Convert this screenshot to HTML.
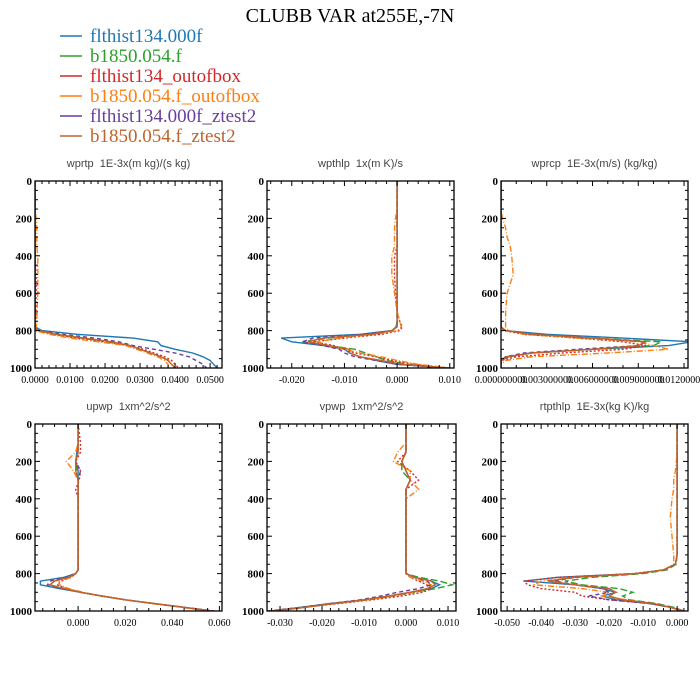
<!DOCTYPE html>
<html><head><meta charset="utf-8"><style>
body{margin:0;background:#fff;}
svg{display:block;}
text{white-space:pre;}
</style></head><body>
<svg id="c" width="700" height="700" xmlns="http://www.w3.org/2000/svg">
<text x="350" y="22" text-anchor="middle" font-family="Liberation Serif, serif" font-size="20">CLUBB VAR at255E,-7N</text>
<g id="legend"></g>
<g id="panels"></g>
</svg>
<script>
const levels=[0,100,150,200,250,300,350,400,500,600,700,750,780,800,820,840,860,880,900,920,940,960,980,1000];
const seriesNames=["flthist134.000f","b1850.054.f","flthist134_outofbox","b1850.054.f_outofbox","flthist134.000f_ztest2","b1850.054.f_ztest2"];
const colors=["#1f77b4","#2ca02c","#d62728","#ff7f0e","#6a3d9a","#c0622b"];
const dashes=["","7,3","2,2","6,2,1,2","4,3",""];

const wprtp_s1=[0,0,0,0,0,0,0,0,0,0,0,0,0,.002,.012,.028,.035,.036,.040,.045,.048,.050,.051,.052];
const wprtp_s2=[0,0,0,0,0,0,0,0,0,0,0,0,0,.001,.006,.013,.021,.027,.030,.033,.036,.038,.039,.040];
const wprtp_s3=[0,0,0,0,0,0,0,0,.0003,.0003,.0002,.0002,0,.0005,.005,.012,.020,.027,.031,.034,.037,.039,.040,.041];
const wprtp_s4=[0,0,0,.0003,.0005,.0005,.0005,.0008,.0008,.0008,.0006,.0005,.0003,0,.004,.010,.018,.026,.029,.032,.035,.037,.038,.038];
const wprtp_s5=[0,0,0,0,0,0,0,0,0,0,0,0,0,.001,.008,.017,.024,.028,.034,.040,.044,.046,.048,.049];
const wprtp_s6=[0,0,0,0,0,0,0,0,0,0,0,0,0,.001,.006,.014,.022,.027,.030,.033,.036,.038,.039,.040];

const wpthlp_s1=[0,0,0,0,0,0,0,0,0,0,0,0,-.0002,-.001,-.007,-.022,-.020,-.014,-.010,-.009,-.007,-.004,0,.010];
const wpthlp_s2=[0,0,0,0,0,0,0,0,0,0,0,0,0,-.001,-.004,-.013,-.018,-.013,-.008,-.006,-.004,-.002,.002,.009];
const wpthlp_s3=[0,0,0,0,0,0,0,-.0005,-.0005,-.0003,0,.0005,.001,.0005,-.003,-.010,-.016,-.012,-.010,-.008,-.004,-.001,.003,.010];
const wpthlp_s4=[0,0,0,-.0003,-.0005,-.0005,-.0005,-.001,-.001,-.0005,0,.0005,.0008,0,-.004,-.011,-.015,-.013,-.010,-.007,-.003,0,.004,.010];
const wpthlp_s5=[0,0,0,0,0,0,0,0,0,0,0,0,0,-.001,-.006,-.016,-.018,-.014,-.011,-.010,-.008,-.004,0,.009];
const wpthlp_s6=[0,0,0,0,0,0,0,0,0,0,0,0,0,-.001,-.005,-.014,-.017,-.013,-.009,-.009,-.007,-.003,.001,.009];

const wprcp_s1=[0,0,0,0,0,0,0,0,0,0,0,0,0,.0003,.003,.008,.0125,.011,.006,.002,.0005,0,0,0];
const wprcp_s2=[0,0,0,0,0,0,0,0,0,0,0,0,0,.0003,.002,.006,.0105,.010,.006,.002,.0003,0,0,0];
const wprcp_s3=[0,0,0,0,0,0,0,0,0,0,0,0,0,.0002,.0015,.005,.008,.0095,.008,.004,.001,0,0,0];
const wprcp_s4=[0,0,0,.0001,.0003,.0004,.0006,.0007,.0008,.0004,.0003,.0003,.0003,.0005,.0015,.005,.009,.010,.011,.007,.002,.0003,0,0];
const wprcp_s5=[0,0,0,0,0,0,0,0,0,0,0,0,0,.0003,.002,.006,.0095,.009,.005,.0015,.0003,0,0,0];
const wprcp_s6=[0,0,0,0,0,0,0,0,0,0,0,0,0,.0003,.002,.006,.0095,.009,.006,.002,.0004,0,0,0];

const upwp_s1=[0,0,-.0005,-.001,0,0,0,0,0,0,0,0,0,-.001,-.006,-.016,-.016,-.008,.001,.010,.020,.032,.045,.057];
const upwp_s2=[0,0,0,-.001,-.0005,0,0,0,0,0,0,0,0,-.001,-.004,-.010,-.012,-.006,.001,.010,.020,.032,.045,.056];
const upwp_s3=[0,.001,.001,-.001,.001,.0005,-.001,0,0,0,0,0,0,-.001,-.003,-.007,-.009,-.005,.001,.010,.020,.032,.045,.056];
const upwp_s4=[0,0,-.001,-.005,-.002,0,0,0,0,0,0,0,0,-.001,-.003,-.008,-.008,-.004,.002,.010,.020,.031,.044,.055];
const upwp_s5=[0,0,0,-.001,.001,0,0,0,0,0,0,0,0,-.001,-.005,-.012,-.013,-.006,.001,.010,.020,.032,.045,.058];
const upwp_s6=[0,0,0,-.001,-.001,0,0,0,0,0,0,0,0,-.001,-.004,-.010,-.012,-.006,.001,.010,.020,.032,.045,.057];

const vpwp_s1=[0,0,0,-.001,0,.001,0,0,0,0,0,0,0,0,.002,.006,.008,.006,.001,-.004,-.010,-.018,-.025,-.032];
const vpwp_s2=[0,0,0,-.001,-.001,.001,0,0,0,0,0,0,0,0,.003,.008,.011,.007,.002,-.003,-.009,-.017,-.025,-.032];
const vpwp_s3=[0,0,0,-.002,.001,.003,0,0,0,0,0,0,0,0,.001,.003,.005,.006,.004,-.001,-.008,-.016,-.024,-.031];
const vpwp_s4=[0,0,-.002,-.003,.001,.001,.003,0,0,0,0,0,0,0,.001,.004,.006,.005,.002,-.003,-.009,-.017,-.024,-.031];
const vpwp_s5=[0,0,0,-.001,0,.001,0,0,0,0,0,0,0,0,.002,.005,.006,.003,-.002,-.006,-.011,-.018,-.025,-.033];
const vpwp_s6=[0,0,0,-.001,0,.001,0,0,0,0,0,0,0,0,.002,.006,.007,.005,.001,-.004,-.010,-.017,-.024,-.032];

const rtpthlp_s1=[0,0,0,0,0,0,0,0,0,0,0,-.0005,-.004,-.012,-.035,-.045,-.030,-.022,-.018,-.022,-.018,-.008,-.002,.002];
const rtpthlp_s2=[0,0,0,0,0,0,0,0,0,0,0,-.0003,-.003,-.010,-.025,-.033,-.028,-.017,-.013,-.016,-.014,-.006,-.001,.002];
const rtpthlp_s3=[0,0,0,0,0,0,0,0,0,0,0,-.0005,-.004,-.013,-.035,-.045,-.044,-.040,-.030,-.028,-.020,-.008,-.002,.002];
const rtpthlp_s4=[0,0,0,-.0002,-.0005,-.001,-.001,-.0015,-.002,-.0015,-.001,-.001,-.004,-.012,-.030,-.040,-.042,-.028,-.020,-.022,-.015,-.007,-.002,.002];
const rtpthlp_s5=[0,0,0,0,0,0,0,0,0,0,0,-.0005,-.004,-.012,-.030,-.036,-.030,-.022,-.020,-.026,-.020,-.008,-.002,.002];
const rtpthlp_s6=[0,0,0,0,0,0,0,0,0,0,0,-.0005,-.004,-.012,-.030,-.038,-.030,-.020,-.018,-.020,-.016,-.007,-.002,.002];

const yTicks=[0,200,400,600,800,1000];
const ticks_wprtp=[0,.01,.02,.03,.04,.05];
const ticks_wpthlp=[-.02,-.01,0,.01];
const ticks_wprcp=[0,.003,.006,.009,.012];
const ticks_upwp=[0,.02,.04,.06];
const ticks_vpwp=[-.03,-.02,-.01,0,.01];
const ticks_rtpthlp=[-.05,-.04,-.03,-.02,-.01,0];

const NS="http://www.w3.org/2000/svg";
function mk(tag,attrs,parent){const e=document.createElementNS(NS,tag);for(const k in attrs)e.setAttribute(k,attrs[k]);parent.appendChild(e);return e;}

const panels=[
 {name:"wprtp",title:"wprtp  1E-3x(m kg)/(s kg)",x0:35,x1:222,y0:181,y1:368,xmin:0,xmax:.0534,ticks:ticks_wprtp,dec:4,minor:5,data:[wprtp_s1,wprtp_s2,wprtp_s3,wprtp_s4,wprtp_s5,wprtp_s6]},
 {name:"wpthlp",title:"wpthlp  1x(m K)/s",x0:267,x1:454,y0:181,y1:368,xmin:-.0247,xmax:.0108,ticks:ticks_wpthlp,dec:3,minor:5,data:[wpthlp_s1,wpthlp_s2,wpthlp_s3,wpthlp_s4,wpthlp_s5,wpthlp_s6]},
 {name:"wprcp",title:"wprcp  1E-3x(m/s) (kg/kg)",x0:501,x1:688,y0:181,y1:368,xmin:0,xmax:.01226,ticks:ticks_wprcp,dec:9,minor:3,data:[wprcp_s1,wprcp_s2,wprcp_s3,wprcp_s4,wprcp_s5,wprcp_s6]},
 {name:"upwp",title:"upwp  1xm^2/s^2",x0:35,x1:222,y0:424,y1:611,xmin:-.0183,xmax:.0611,ticks:ticks_upwp,dec:3,minor:4,data:[upwp_s1,upwp_s2,upwp_s3,upwp_s4,upwp_s5,upwp_s6]},
 {name:"vpwp",title:"vpwp  1xm^2/s^2",x0:267,x1:456,y0:424,y1:611,xmin:-.0331,xmax:.0119,ticks:ticks_vpwp,dec:3,minor:5,data:[vpwp_s1,vpwp_s2,vpwp_s3,vpwp_s4,vpwp_s5,vpwp_s6]},
 {name:"rtpthlp",title:"rtpthlp  1E-3x(kg K)/kg",x0:501,x1:688,y0:424,y1:611,xmin:-.0518,xmax:.0032,ticks:ticks_rtpthlp,dec:3,minor:5,data:[rtpthlp_s1,rtpthlp_s2,rtpthlp_s3,rtpthlp_s4,rtpthlp_s5,rtpthlp_s6]}
];

const legend=document.getElementById('legend');
seriesNames.forEach((n,i)=>{
 const y=42+i*20;
 const g=mk('g',{},legend);
 
 
 mk('line',{x1:60,x2:82,y1:y-6,y2:y-6,stroke:colors[i],'stroke-width':1.5},g);
 const t=mk('text',{x:90,y:y,fill:colors[i],'font-family':'Liberation Serif, serif','font-size':19},g);
 t.textContent=n;
});

const root=document.getElementById('panels');
panels.forEach(p=>{
 const g=mk('g',{},root);
 
 
 const sx=v=>p.x0+(v-p.xmin)/(p.xmax-p.xmin)*(p.x1-p.x0);
 const sy=v=>p.y0+v/1000*(p.y1-p.y0);
 const t=mk('text',{x:(p.x0+p.x1)/2,y:p.y0-14,'text-anchor':'middle','font-family':'Liberation Sans, sans-serif','font-size':11,fill:'#444'},g);
 
 
 t.textContent=p.title;
 const clipId='clip-'+p.name;
 const cp=mk('clipPath',{id:clipId},g);
 mk('rect',{x:p.x0,y:p.y0,width:p.x1-p.x0,height:p.y1-p.y0},cp);
 const lg=mk('g',{'clip-path':'url(#'+clipId+')'},g);
 p.data.forEach((arr,i)=>{
  const pts=arr.map((v,k)=>sx(v).toFixed(1)+','+sy(levels[k]).toFixed(1)).join(' ');
  const pl=mk('polyline',{points:pts,fill:'none',stroke:colors[i],'stroke-width':1.4,'stroke-dasharray':dashes[i]||'none'},lg);
  
  
 });
 const ax=mk('g',{stroke:'#000','stroke-width':1},g);
 
 
 mk('rect',{x:p.x0,y:p.y0,width:p.x1-p.x0,height:p.y1-p.y0,fill:'none','stroke-width':1.3},ax);
 for(let v=0;v<=1000;v+=50){
  const y=sy(v);const L=(v%200===0)?5:3;
  mk('line',{x1:p.x0,x2:p.x0+L,y1:y,y2:y},ax);
  mk('line',{x1:p.x1,x2:p.x1-L,y1:y,y2:y},ax);
 }
 yTicks.forEach(v=>{
  const tt=mk('text',{x:p.x0-3,y:sy(v)+4,'text-anchor':'end','font-family':'Liberation Serif, serif','font-size':11,'font-weight':'bold',stroke:'none'},g);
  
  
  tt.textContent=v;
 });
 const step=p.ticks[1]-p.ticks[0];const ms=step/p.minor;
 for(let v=p.ticks[0]-step;v<=p.xmax+1e-9;v+=ms){
  if(v<p.xmin-1e-9)continue;
  const x=sx(v);
  const major=Math.abs(Math.round((v-p.ticks[0])/step)*step-(v-p.ticks[0]))<ms/10;
  const L=major?5:3;
  mk('line',{x1:x,x2:x,y1:p.y1,y2:p.y1-L},ax);
  mk('line',{x1:x,x2:x,y1:p.y0,y2:p.y0+L},ax);
 }
 p.ticks.forEach(v=>{
  const tt=mk('text',{x:sx(v),y:p.y1+15,'text-anchor':'middle','font-family':'Liberation Serif, serif','font-size':10},g);
  
  
  tt.textContent=(Math.abs(v)<1e-12?0:v).toFixed(p.dec);
 });
});
</script>
</body></html>
